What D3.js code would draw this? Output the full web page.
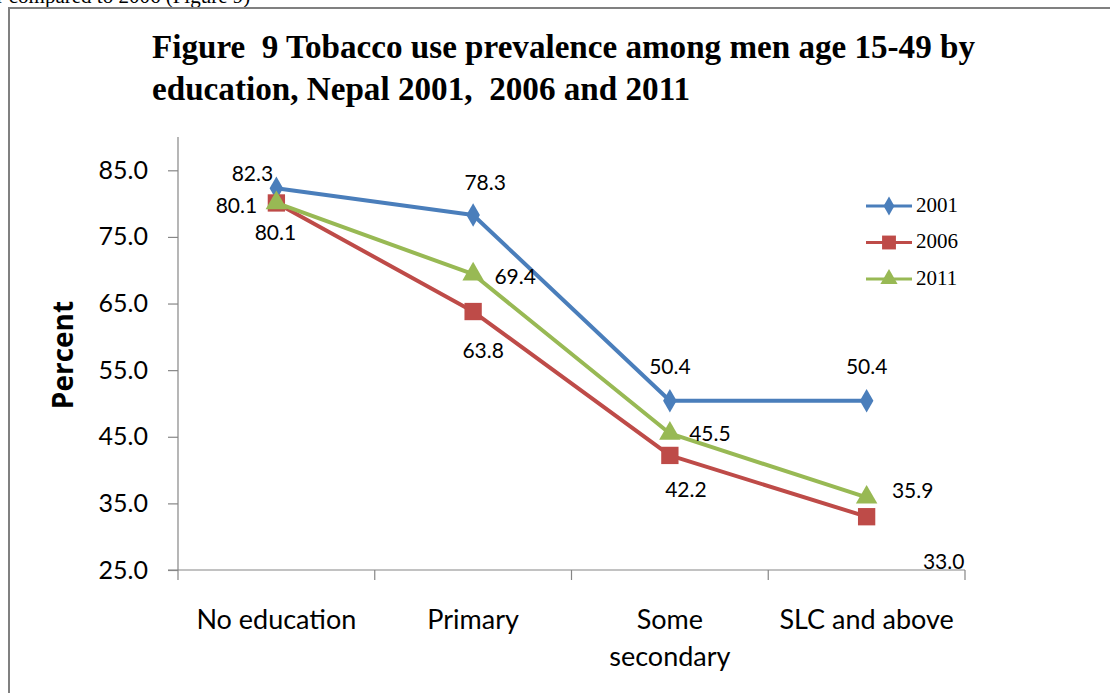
<!DOCTYPE html>
<html>
<head>
<meta charset="utf-8">
<script src="https://cdn.jsdelivr.net/npm/d3@7"></script>
<style>
  html, body { margin: 0; padding: 0; background: #fff; }
  svg { display: block; }
  .title { white-space: pre; }
</style>
</head>
<body>
<svg id="chart" width="1110" height="693"></svg>
<script>
// Education levels along the x axis
const categories = ["No education", "Primary", "Some secondary", "SLC and above"];
const categoryLines = [["No education"], ["Primary"], ["Some", "secondary"], ["SLC and above"]];

// Survey years and their prevalence values (%)
const years = ["2001", "2006", "2011"];
const values2001 = [82.3, 78.3, 50.4, 50.4];
const values2006 = [80.1, 63.8, 42.2, 33.0];
const values2011 = [80.1, 69.4, 45.5, 35.9];

// Y axis tick values
const yTicks = [25, 35, 45, 55, 65, 75, 85];

const titleLines = [
  "Figure  9 Tobacco use prevalence among men age 15-49 by",
  "education, Nepal 2001,  2006 and 2011"
];

const series = [
  { name: years[0], values: values2001, color: "#4a7ebb", marker: "diamond",
    // label offsets from each point (dx, dy)
    labelOff: [[-24, -13], [12, -30], [0, -32], [0, -32]] },
  { name: years[1], values: values2006, color: "#be4b48", marker: "square",
    labelOff: [[-40, 5], [10, 41], [16, 36], [77, 47]] },
  { name: years[2], values: values2011, color: "#98b954", marker: "triangle",
    labelOff: [[-1, 32], [42, 4], [40, 2], [46, -5]] }
];

const svg = d3.select("#chart");

// Page text running above the chart frame
svg.append("text")
  .attr("x", -95).attr("y", 3)
  .attr("font-family", "Liberation Serif").attr("font-size", 21)
  .attr("fill", "#000")
  .text("rates higher compared to 2006 (Figure 9)");

// Chart frame
svg.append("rect")
  .attr("x", 9).attr("y", 8)
  .attr("width", 1200).attr("height", 800)
  .attr("fill", "#fff")
  .attr("stroke", "#808080").attr("stroke-width", 2);

// Title
const titleX = 152;
svg.append("text").attr("class", "title")
  .attr("x", titleX).attr("y", 58)
  .attr("font-family", "Liberation Serif").attr("font-weight", "bold")
  .attr("font-size", 33)
  .attr("textLength", 823).attr("lengthAdjust", "spacingAndGlyphs")
  .text(titleLines[0]);
svg.append("text").attr("class", "title")
  .attr("x", titleX).attr("y", 100)
  .attr("font-family", "Liberation Serif").attr("font-weight", "bold")
  .attr("font-size", 33)
  .attr("textLength", 538).attr("lengthAdjust", "spacingAndGlyphs")
  .text(titleLines[1]);

// Scales
const plotLeft = 178, plotRight = 965, plotTop = 137, plotBottom = 570;
const x = d3.scaleBand().domain(categories).range([plotLeft, plotRight]).padding(0);
const y = d3.scaleLinear().domain([25, 90]).range([plotBottom, plotTop]);
const cx = c => x(c) + x.bandwidth() / 2;

const axisColor = "#868686";
const sansFont = "Lato, 'Open Sans', sans-serif";

// Y axis
const yAxis = svg.append("g")
  .attr("transform", `translate(${plotLeft},0)`)
  .call(d3.axisLeft(y).tickValues(yTicks).tickSize(10).tickPadding(20)
    .tickFormat(d3.format(".1f")));
yAxis.select(".domain").attr("stroke", axisColor).attr("stroke-width", 1.2)
  .attr("d", `M0,${plotTop}V${plotBottom}`);
yAxis.selectAll(".tick line").attr("stroke", axisColor).attr("stroke-width", 1.2);
yAxis.selectAll(".tick text")
  .attr("font-family", sansFont).attr("font-size", 25).attr("fill", "#000");

// X axis with tick marks at category boundaries
const xAxisG = svg.append("g").attr("transform", `translate(0,${plotBottom})`);
xAxisG.append("line")
  .attr("x1", plotLeft - 10).attr("x2", plotRight)
  .attr("stroke", axisColor).attr("stroke-width", 1.2);
const boundaries = categories.map(c => x(c)).concat([plotRight]);
xAxisG.selectAll("line.bound").data(boundaries).join("line")
  .attr("class", "bound")
  .attr("x1", d => d).attr("x2", d => d)
  .attr("y1", 0).attr("y2", 10)
  .attr("stroke", axisColor).attr("stroke-width", 1.2);
const catText = xAxisG.selectAll("text.cat").data(categories).join("text")
  .attr("class", "cat")
  .attr("x", d => cx(d)).attr("y", 59)
  .attr("text-anchor", "middle")
  .attr("font-family", sansFont).attr("font-size", 27).attr("fill", "#000");
catText.each(function(d, i) {
  d3.select(this).selectAll("tspan").data(categoryLines[i]).join("tspan")
    .attr("x", cx(d)).attr("dy", (t, j) => j === 0 ? 0 : 37)
    .text(t => t);
});

// Y axis title
svg.append("text")
  .attr("transform", `translate(73,355) rotate(-90)`)
  .attr("text-anchor", "middle")
  .attr("font-family", "'Open Sans', sans-serif").attr("font-weight", "bold")
  .attr("font-size", 28).attr("fill", "#000")
  .text("Percent");

// Marker shapes
function markerPath(type) {
  if (type === "diamond") return d3.symbol(d3.symbolDiamond, 160)();
  if (type === "square") return d3.symbol(d3.symbolSquare, 300)();
  return d3.symbol(d3.symbolTriangle, 200)();
}

const line = d3.line().x((d, i) => cx(categories[i])).y(d => y(d));

series.forEach(s => {
  const g = svg.append("g");
  g.append("path")
    .attr("d", line(s.values))
    .attr("fill", "none").attr("stroke", s.color)
    .attr("stroke-width", 4).attr("stroke-linejoin", "round");
  g.selectAll("path.m").data(s.values).join("path")
    .attr("class", "m")
    .attr("d", markerPath(s.marker))
    .attr("transform", (d, i) => `translate(${cx(categories[i])},${y(d)})`)
    .attr("fill", s.color);
});

// Value labels
series.forEach(s => {
  svg.append("g").selectAll("text").data(s.values).join("text")
    .attr("x", (d, i) => cx(categories[i]) + s.labelOff[i][0])
    .attr("y", (d, i) => y(d) + s.labelOff[i][1])
    .attr("text-anchor", "middle")
    .attr("dominant-baseline", "middle")
    .attr("font-family", sansFont).attr("font-size", 21).attr("fill", "#000")
    .text(d => d3.format(".1f")(d));
});

// Legend
const legend = svg.append("g").attr("transform", "translate(866,206)");
series.forEach((s, i) => {
  const g = legend.append("g").attr("transform", `translate(0,${i * 36.5})`);
  g.append("line").attr("x1", 0).attr("x2", 46)
    .attr("stroke", s.color).attr("stroke-width", 3);
  g.append("path").attr("d", markerPath(s.marker))
    .attr("transform", "translate(23,0) scale(0.8)").attr("fill", s.color);
  g.append("text").attr("x", 50).attr("y", 1)
    .attr("dominant-baseline", "middle")
    .attr("font-family", "Liberation Serif").attr("font-size", 21).attr("fill", "#000")
    .text(s.name);
});
</script>
</body>
</html>
